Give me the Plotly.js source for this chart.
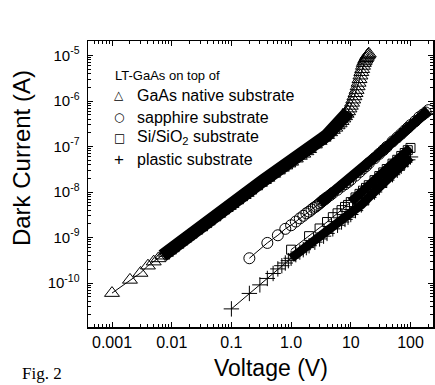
<!DOCTYPE html>
<html><head><meta charset="utf-8">
<script src="https://cdn.plot.ly/plotly-3.0.1.min.js"></script>
<style>html,body{margin:0;padding:0;background:#fff}#chart{width:435px;height:385px}</style>
</head><body><div id="chart"></div>
<script>
// GaAs native substrate (triangles)
const gaasV = [0.001,0.002,0.003,0.004,0.005,0.006,0.007,0.008,0.009,0.010,
  0.012,0.014,0.016,0.018,0.020,0.025,0.03,0.035,0.04,0.05,0.06,0.07,0.08,0.09,
  0.1,0.12,0.14,0.16,0.18,0.2,0.25,0.3,0.35,0.4,0.5,0.6,0.7,0.8,0.9,
  1.0,1.2,1.4,1.6,1.8,2.0,2.5,3.0,3.5,4.0,4.5,5.0,5.5,6.0,6.5,7.0,7.5,8.0,8.5,9.0,9.5,
  10,10.5,11,11.5,12,12.5,13,13.5,14,14.5,15,15.5,16,16.5,17,17.5,18,18.5,19,19.5,20];
const gaasI = [6.0e-11,1.17e-10,1.66e-10,2.4e-10,2.95e-10,3.47e-10,3.98e-10,4.57e-10,5.13e-10,5.75e-10,
  6.9e-10,8.1e-10,9.3e-10,1.05e-9,1.15e-9,1.41e-9,1.66e-9,1.95e-9,2.24e-9,2.75e-9,3.3e-9,3.9e-9,4.4e-9,4.9e-9,
  5.4e-9,6.5e-9,7.6e-9,8.5e-9,9.5e-9,1.07e-8,1.32e-8,1.58e-8,1.82e-8,2.04e-8,2.5e-8,2.95e-8,3.4e-8,3.8e-8,4.2e-8,
  4.6e-8,5.4e-8,6.2e-8,6.9e-8,7.8e-8,8.7e-8,1.1e-7,1.32e-7,1.55e-7,1.78e-7,2.04e-7,2.3e-7,2.57e-7,2.9e-7,3.2e-7,3.6e-7,4.1e-7,4.6e-7,5.2e-7,5.9e-7,6.8e-7,
  7.8e-7,9.1e-7,1.07e-6,1.26e-6,1.48e-6,1.74e-6,2.09e-6,2.5e-6,3.0e-6,3.6e-6,4.3e-6,5.0e-6,5.9e-6,6.8e-6,7.4e-6,8.1e-6,8.7e-6,9.3e-6,1.0e-5,1.05e-5,1.1e-5];

// sapphire substrate (circles)
const sapphV = [0.2,0.4,0.6,0.8,1.0,1.2,1.4,1.6,1.8,2.0,2.2,2.4,2.6,2.8,3.0,3.2,3.4,3.6,3.8,4.0,4.5,5,6,7,8,9,
  10,12,14,16,18,20,25,30,35,40,50,60,70,80,90,100,120,140,160,180,200];
const sapphI = [3.5e-10,7.6e-10,1.12e-9,1.55e-9,1.86e-9,2.24e-9,2.63e-9,3.0e-9,3.4e-9,3.7e-9,4.1e-9,4.5e-9,4.8e-9,5.2e-9,5.6e-9,6.0e-9,6.5e-9,6.8e-9,7.2e-9,7.6e-9,8.5e-9,9.5e-9,1.12e-8,1.32e-8,1.48e-8,1.66e-8,
  1.86e-8,2.29e-8,2.75e-8,3.24e-8,3.7e-8,4.27e-8,5.5e-8,6.9e-8,8.3e-8,9.8e-8,1.29e-7,1.58e-7,1.9e-7,2.24e-7,2.57e-7,2.95e-7,3.6e-7,4.4e-7,5.0e-7,5.6e-7,6.3e-7];

// Si/SiO2 substrate (squares)
const siV = [1,2,3,4,5,6,7,8,9,10,12,14,16,18,20,25,30,35,40,50,60,70,80,90,100];
const siI = [5.4e-10,1.07e-9,1.58e-9,2.19e-9,2.8e-9,3.4e-9,4.0e-9,4.7e-9,5.2e-9,6.0e-9,7.6e-9,9.1e-9,1.07e-8,1.23e-8,1.41e-8,1.82e-8,2.24e-8,2.7e-8,3.2e-8,4.2e-8,5.1e-8,6.2e-8,7.2e-8,8.3e-8,9.3e-8];

// plastic substrate (plus)
const plasV = [0.1,0.2,0.3,0.4,0.5,0.6,0.7,0.8,0.9,1.0,1.2,1.4,1.6,1.8,2.0,2.5,3,3.5,4,5,6,7,8,9,10,12,15,20,25,30,40,50,60,70,80,90,100];
const plasI = [2.7e-11,5.9e-11,9.1e-11,1.26e-10,1.62e-10,2.04e-10,2.4e-10,2.75e-10,3.1e-10,3.5e-10,4.2e-10,4.8e-10,5.4e-10,6.0e-10,6.6e-10,7.9e-10,9.3e-10,1.07e-9,1.23e-9,1.55e-9,1.86e-9,2.19e-9,2.5e-9,2.8e-9,3.2e-9,3.9e-9,5.2e-9,7.6e-9,1.0e-8,1.26e-8,1.82e-8,2.4e-8,3.0e-8,3.7e-8,4.5e-8,5.1e-8,5.9e-8];

const xTickVals = [0.001,0.01,0.1,1,10,100];
const xTickText = ['0.001','0.01','0.1','1.0','10','100'];
const yTickVals = [1e-10,1e-9,1e-8,1e-7,1e-6,1e-5];
const yTickText = ['10<sup>-10</sup>','10<sup>-9</sup>','10<sup>-8</sup>','10<sup>-7</sup>','10<sup>-6</sup>','10<sup>-5</sup>'];

const legendHead = 'LT-GaAs on top of';
const legendSymbols = ['\u25B3','\u25CB','\u25A1','+'];
const legendLabels = ['GaAs native substrate','sapphire substrate','Si/SiO<sub>2</sub> substrate','plastic substrate'];

function band(V, I, lo, hi, w) {
  const x = [], y = [];
  V.forEach((v, i) => { if (v >= lo && v <= hi) { x.push(v); y.push(I[i]); } });
  return {x, y, type:'scatter', mode:'lines', line:{color:'black', width:w}, hoverinfo:'skip', showlegend:false};
}
function series(V, I, symbol, size) {
  return {x:V, y:I, type:'scatter', mode:'lines+markers', line:{color:'black', width:1},
    marker:{symbol, size, color:'black', line:{color:'black', width:1}}, showlegend:false};
}

const traces = [
  band(gaasV, gaasI, 0.007, 9, 13),
  band(sapphV, sapphI, 3, 200, 10),
  band(siV, siI, 10, 100, 9),
  band(plasV, plasI, 1.0, 100, 9),
  series(gaasV, gaasI, 'triangle-up-open', 13),
  series(sapphV, sapphI, 'circle-open', 11),
  series(siV, siI, 'square-open', 9),
  series(plasV, plasI, 'cross-thin-open', 11)
];

const FONT = 'Liberation Sans, Arial, Helvetica, sans-serif';
const annotations = [
  {text:'Dark Current (A)', xref:'paper', yref:'paper', x:-0.191, y:0.591, textangle:-90, showarrow:false, xanchor:'center', yanchor:'middle', font:{size:24, family:FONT, color:'black'}},
  {text:'Voltage (V)', xref:'paper', yref:'paper', x:0.530, y:-0.143, showarrow:false, xanchor:'center', yanchor:'middle', font:{size:23, family:FONT, color:'black'}},
  {text:'Fig. 2', xref:'paper', yref:'paper', x:-0.197, y:-0.161, showarrow:false, xanchor:'left', yanchor:'middle', font:{size:17, family:'Liberation Serif, Times New Roman, serif', color:'black'}},
  {text:legendHead, xref:'paper', yref:'paper', x:0.0725, y:0.881, showarrow:false, xanchor:'left', yanchor:'middle', font:{size:13, family:FONT, color:'black'}}
];
const legY = [0.811, 0.734, 0.661, 0.584];
legendLabels.forEach((t, i) => {
  annotations.push({text:legendSymbols[i], xref:'paper', yref:'paper', x:0.0899, y:legY[i], showarrow:false, xanchor:'center', yanchor:'middle',
    font:{size: i === 3 ? 17 : 12, family: i === 3 ? FONT : 'DejaVu Sans, sans-serif', color:'black'}});
  annotations.push({text:t, xref:'paper', yref:'paper', x:0.136, y:legY[i], showarrow:false, xanchor:'left', yanchor:'middle', font:{size:16, family:FONT, color:'black'}});
});

const axisCommon = {
  type:'log', showgrid:false, zeroline:false, showline:true, linecolor:'black', linewidth:1.5, mirror:'ticks',
  ticks:'inside', ticklen:5, tickwidth:1, tickcolor:'black',
  minor:{ticks:'inside', ticklen:3, tickwidth:1, tickcolor:'black', dtick:'D1', showgrid:false}
};
const layout = {
  width:435, height:385, margin:{l:88, r:2, t:41, b:58},
  paper_bgcolor:'white', plot_bgcolor:'white', showlegend:false,
  font:{family:FONT, color:'black'},
  xaxis:Object.assign({}, axisCommon, {range:[-3.402, 2.377], tickmode:'array', tickvals:xTickVals, ticktext:xTickText, tickfont:{size:16}}),
  yaxis:Object.assign({}, axisCommon, {range:[-10.967, -4.681], tickmode:'array', tickvals:yTickVals, ticktext:yTickText, tickfont:{size:15}, ticklabelstandoff:4}),
  annotations
};
Plotly.newPlot('chart', traces, layout, {staticPlot:true, displayModeBar:false});
</script>
</body></html>
